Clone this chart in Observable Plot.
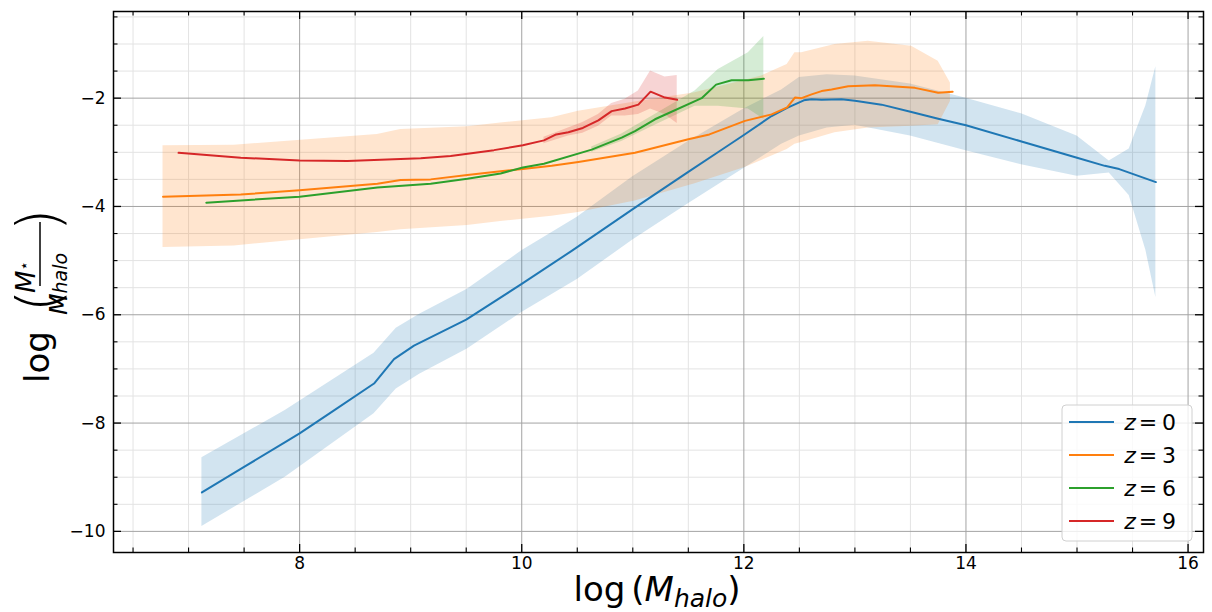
<!DOCTYPE html>
<html><head><meta charset="utf-8">
<script src="https://cdn.jsdelivr.net/npm/d3@7"></script>
<script src="https://cdn.jsdelivr.net/npm/@observablehq/plot@0.6"></script>
<style>body{margin:0;background:#fff;} svg{display:block;}</style>
</head><body><div id="chart"></div>
<script>
// ---- series labels / colours ----
const seriesLabels = ["0", "3", "6", "9"];
const seriesColors = ["#1f77b4", "#ff7f0e", "#2ca02c", "#d62728"];

// ---- z = 0 ----
const z0X = [7.12, 7.50, 7.87, 8.00, 8.30, 8.67, 8.85, 9.03, 9.50, 10.00, 10.45, 11.00, 11.50, 11.78, 12.00, 12.25, 12.39, 12.54, 12.61, 12.70, 12.88, 13.00, 13.24, 13.50, 13.75, 14.00, 14.50, 15.00, 15.25, 15.38, 15.71];
const z0Y = [-9.28, -8.81, -8.35, -8.19, -7.78, -7.27, -6.82, -6.57, -6.09, -5.43, -4.82, -4.05, -3.36, -2.98, -2.68, -2.33, -2.18, -2.04, -2.02, -2.03, -2.02, -2.05, -2.12, -2.25, -2.38, -2.50, -2.80, -3.10, -3.25, -3.31, -3.55];
const z0BandX = [7.12, 7.87, 8.67, 8.87, 9.08, 9.51, 10.00, 10.50, 11.00, 11.50, 12.00, 12.34, 12.50, 12.75, 13.00, 13.50, 14.00, 14.50, 15.00, 15.29, 15.47, 15.62, 15.71];
const z0BandHi = [-8.64, -7.77, -6.71, -6.25, -5.99, -5.53, -4.82, -4.20, -3.45, -2.80, -2.20, -1.85, -1.62, -1.57, -1.59, -1.74, -2.00, -2.29, -2.70, -3.16, -2.94, -2.14, -1.42];
const z0BandLo = [-9.91, -9.00, -7.83, -7.37, -7.10, -6.63, -5.96, -5.35, -4.62, -3.95, -3.30, -2.85, -2.70, -2.55, -2.50, -2.70, -2.97, -3.23, -3.44, -3.38, -3.80, -4.81, -5.68];

// ---- z = 3 ----
const z3X = [6.77, 7.47, 8.00, 8.70, 8.91, 9.18, 9.51, 9.81, 10.01, 10.27, 10.51, 11.02, 11.50, 11.69, 12.01, 12.25, 12.39, 12.46, 12.52, 12.61, 12.70, 12.79, 12.94, 13.18, 13.54, 13.75, 13.88];
const z3Y = [-3.82, -3.78, -3.70, -3.58, -3.51, -3.50, -3.42, -3.35, -3.31, -3.25, -3.18, -3.01, -2.76, -2.67, -2.42, -2.30, -2.17, -1.99, -2.00, -1.93, -1.87, -1.84, -1.78, -1.76, -1.81, -1.90, -1.88];
const z3BandX = [6.77, 7.41, 8.70, 8.91, 9.51, 9.81, 10.27, 10.51, 11.02, 11.56, 12.01, 12.16, 12.39, 12.46, 12.52, 12.82, 13.12, 13.51, 13.75, 13.86];
const z3BandHi = [-2.88, -2.87, -2.67, -2.58, -2.53, -2.46, -2.36, -2.24, -2.07, -1.90, -1.67, -1.59, -1.38, -1.16, -1.16, -1.01, -0.95, -1.04, -1.32, -1.72];
const z3BandLo = [-4.76, -4.73, -4.48, -4.43, -4.35, -4.28, -4.18, -4.11, -3.90, -3.58, -3.28, -3.15, -2.95, -2.85, -2.82, -2.64, -2.55, -2.52, -2.49, -2.06];

// ---- z = 6 ----
const z6X = [7.16, 8.00, 8.70, 9.18, 9.51, 9.81, 10.01, 10.20, 10.63, 10.90, 11.02, 11.20, 11.62, 11.75, 11.89, 12.04, 12.18];
const z6Y = [-3.93, -3.82, -3.65, -3.58, -3.49, -3.39, -3.28, -3.21, -2.95, -2.73, -2.61, -2.39, -2.00, -1.75, -1.67, -1.67, -1.64];
const z6BandX = [10.63, 10.90, 11.20, 11.56, 11.77, 12.04, 12.18];
const z6BandHi = [-2.90, -2.66, -2.30, -1.87, -1.47, -1.16, -0.86];
const z6BandLo = [-3.00, -2.80, -2.50, -2.15, -2.15, -2.20, -2.39];

// ---- z = 9 ----
const z9X = [6.91, 7.47, 8.00, 8.43, 9.09, 9.36, 9.75, 10.01, 10.20, 10.31, 10.42, 10.55, 10.69, 10.81, 10.93, 11.05, 11.16, 11.29, 11.40];
const z9Y = [-3.01, -3.10, -3.15, -3.16, -3.11, -3.07, -2.96, -2.87, -2.78, -2.67, -2.63, -2.55, -2.41, -2.24, -2.19, -2.12, -1.88, -1.99, -2.03];
const z9BandX = [10.20, 10.42, 10.55, 10.69, 10.81, 10.93, 11.05, 11.16, 11.29, 11.40];
const z9BandHi = [-2.72, -2.55, -2.45, -2.30, -2.10, -2.02, -1.87, -1.50, -1.61, -1.58];
const z9BandLo = [-2.84, -2.70, -2.65, -2.52, -2.33, -2.33, -2.30, -2.20, -2.30, -2.47];

// ---- ticks ----
const xMajorTicks = [8, 10, 12, 14, 16];
const xMinorTicks = [6.5, 7, 7.5, 8.5, 9, 9.5, 10.5, 11, 11.5, 12.5, 13, 13.5, 14.5, 15, 15.5];
const yMajorTicks = [-10, -8, -6, -4, -2];
const yMinorTicks = [-9.5, -9, -8.5, -7.5, -7, -6.5, -5.5, -5, -4.5, -3.5, -3, -2.5, -1.5, -1, -0.5];

// ---- build tables ----
const lineSets = [[z0X, z0Y], [z3X, z3Y], [z6X, z6Y], [z9X, z9Y]];
const bandSets = [[z0BandX, z0BandLo, z0BandHi], [z3BandX, z3BandLo, z3BandHi], [z6BandX, z6BandLo, z6BandHi], [z9BandX, z9BandLo, z9BandHi]];
const lines = lineSets.map(([xs, ys]) => xs.map((x, i) => ({x, y: ys[i]})));
const bands = bandSets.map(([xs, lo, hi]) => xs.map((x, i) => ({x, lo: lo[i], hi: hi[i]})));

const W = 1212, H = 612, ML = 113, MR = 9, MT = 11, MB = 60;
const FW = W - ML - MR, FH = H - MT - MB;
const majLen = 8, minLen = 4.5;
const fmtY = d => d < 0 ? "\u2212" + (-d) : String(d);

const marks = [
  Plot.ruleX(xMinorTicks, {stroke: "#e3e3e3", strokeWidth: 1}),
  Plot.ruleY(yMinorTicks, {stroke: "#e3e3e3", strokeWidth: 1}),
  Plot.ruleX(xMajorTicks, {stroke: "#a3a3a3", strokeWidth: 1}),
  Plot.ruleY(yMajorTicks, {stroke: "#a3a3a3", strokeWidth: 1}),
  ...bands.map((b, i) => Plot.areaY(b, {x: "x", y1: "lo", y2: "hi", fill: seriesColors[i], fillOpacity: 0.2})),
  ...lines.map((l, i) => Plot.line(l, {x: "x", y: "y", stroke: seriesColors[i], strokeWidth: 2})),
  Plot.frame({stroke: "#000", strokeWidth: 1.5}),
  // inward ticks: bottom, top, left, right
  Plot.tickX(xMajorTicks, {insetTop: FH - majLen, stroke: "#000", strokeWidth: 1.3}),
  Plot.tickX(xMinorTicks, {insetTop: FH - minLen, stroke: "#000", strokeWidth: 1.1}),
  Plot.tickX(xMajorTicks, {insetBottom: FH - majLen, stroke: "#000", strokeWidth: 1.3}),
  Plot.tickX(xMinorTicks, {insetBottom: FH - minLen, stroke: "#000", strokeWidth: 1.1}),
  Plot.tickY(yMajorTicks, {insetRight: FW - majLen, stroke: "#000", strokeWidth: 1.3}),
  Plot.tickY(yMinorTicks, {insetRight: FW - minLen, stroke: "#000", strokeWidth: 1.1}),
  Plot.tickY(yMajorTicks, {insetLeft: FW - majLen, stroke: "#000", strokeWidth: 1.3}),
  Plot.tickY(yMinorTicks, {insetLeft: FW - minLen, stroke: "#000", strokeWidth: 1.1}),
  // tick labels
  Plot.text(xMajorTicks, {x: d => d, text: d => String(d), frameAnchor: "bottom", lineAnchor: "top", dy: 4, fontSize: 17, fill: "#000"}),
  Plot.text(yMajorTicks, {y: d => d, text: fmtY, frameAnchor: "left", textAnchor: "end", dx: -8, fontSize: 17, fill: "#000"})
];

const svg = Plot.plot({
  width: W, height: H,
  marginLeft: ML, marginRight: MR, marginTop: MT, marginBottom: MB,
  x: {domain: [6.324, 16.139], axis: null},
  y: {domain: [-10.39, -0.40], axis: null},
  style: {fontFamily: "DejaVu Sans", fontSize: "17px", color: "#000", background: "#fff"},
  marks
});
document.getElementById("chart").appendChild(svg);

const s = d3.select(svg);

// x label: log(M_halo)
const xl = s.append("text").attr("x", 657).attr("y", 601).attr("text-anchor", "middle")
  .attr("font-family", "DejaVu Sans").attr("font-size", 34).attr("fill", "#000");
xl.append("tspan").text("log");
xl.append("tspan").attr("dx", 6).text("(");
xl.append("tspan").attr("font-style", "italic").text("M");
xl.append("tspan").attr("font-style", "italic").attr("font-size", 25).attr("dy", 6).text("halo");
xl.append("tspan").attr("dy", -6).text(")");

// y label: log( M⋆ / M_halo )
const g = s.append("g").attr("transform", "translate(49,357) rotate(-90)")
  .attr("font-family", "DejaVu Sans").attr("fill", "#000");
g.append("text").attr("x", 0).attr("y", 0).attr("font-size", 34).text("log");
g.append("text").attr("x", 56).attr("y", 10).attr("font-size", 58).attr("font-weight", 200).text("(");
g.append("line").attr("x1", 71).attr("x2", 135).attr("y1", -9).attr("y2", -9).attr("stroke", "#000").attr("stroke-width", 1.5);
const num = g.append("text").attr("x", 80).attr("y", -14).attr("font-size", 26);
num.append("tspan").attr("font-style", "italic").text("M");
num.append("tspan").attr("font-size", 15).attr("dy", -6).text("\u22C6");
const den = g.append("text").attr("x", 73).attr("y", 18).attr("font-size", 25);
den.append("tspan").attr("font-style", "italic").text("M");
den.append("tspan").attr("font-style", "italic").attr("font-size", 19).text("halo");
g.append("text").attr("x", 137).attr("y", 10).attr("font-size", 58).attr("font-weight", 200).text(")");

// legend
const lg = s.append("g").attr("font-family", "DejaVu Sans");
lg.append("rect").attr("x", 1062).attr("y", 405).attr("width", 130).attr("height", 136).attr("rx", 4)
  .attr("fill", "#fff").attr("fill-opacity", 0.8).attr("stroke", "#d0d0d0").attr("stroke-width", 1);
seriesLabels.forEach((lab, i) => {
  const cy = 422 + 33 * i;
  lg.append("line").attr("x1", 1069).attr("x2", 1114).attr("y1", cy).attr("y2", cy)
    .attr("stroke", seriesColors[i]).attr("stroke-width", 2);
  lg.append("text").attr("x", 1130).attr("y", cy + 8).attr("font-size", 22).attr("font-style", "italic").attr("fill", "#000").text("z");
  lg.append("text").attr("x", 1148).attr("y", cy + 8).attr("font-size", 22).attr("fill", "#000").text("=");
  lg.append("text").attr("x", 1169).attr("y", cy + 8).attr("font-size", 22).attr("fill", "#000").text(lab);
});
</script>
</body></html>
